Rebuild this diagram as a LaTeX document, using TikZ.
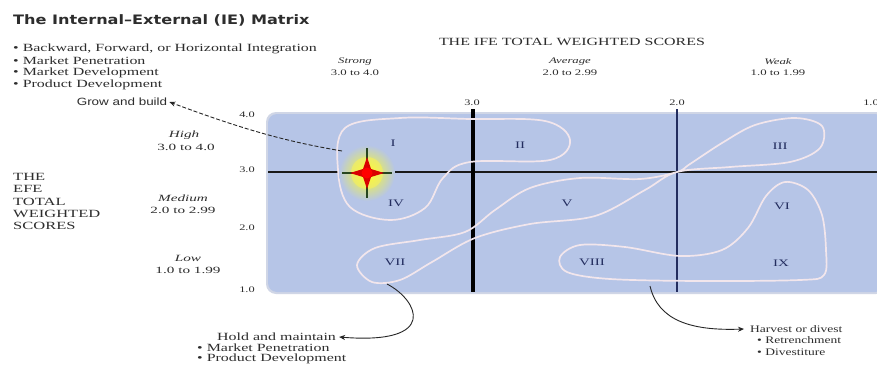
\documentclass[tikz,border=0pt]{standalone}
\usepackage{fontspec}
\usetikzlibrary{arrows.meta}
\setmainfont{Liberation Serif}
\newfontfamily\serW{Liberation Serif}
\newfontfamily\sansW{Liberation Sans}
\newfontfamily\titleF{DejaVu Sans}
\newcommand\hwide[2]{\scalebox{#1}[1]{#2}}
\definecolor{matblue}{RGB}{182,197,231}
\definecolor{matedge}{RGB}{208,214,230}
\definecolor{loopc}{RGB}{242,230,236}
\definecolor{navy}{RGB}{35,45,95}
\definecolor{txtc}{RGB}{45,45,45}
\definecolor{dgreen}{RGB}{40,70,30}
\tikzset{
  txt/.style={inner sep=0pt, text=txtc, font=\serW\fontsize{11}{12}\selectfont},
  smalltxt/.style={inner sep=0pt, text=txtc, font=\serW\fontsize{10}{11}\selectfont},
  bigtxt/.style={inner sep=0pt, text=txtc, font=\serW\fontsize{11}{12}\selectfont},
  ticklab/.style={inner sep=0pt, text=txtc, font=\serW\fontsize{8.5}{9}\selectfont},
  rowlab/.style={inner sep=0pt, text=txtc, font=\serW\fontsize{9.5}{10}\selectfont},
  hdr/.style={inner sep=0pt, text=txtc, font=\serW\itshape\fontsize{8.5}{9}\selectfont},
  rowhdr/.style={inner sep=0pt, text=txtc, font=\serW\itshape\fontsize{9.5}{10}\selectfont},
  cell/.style={inner sep=0pt, text=navy, font=\serW\fontsize{10}{11}\selectfont},
  loopline/.style={draw=loopc, line width=1.7pt},
  conn/.style={draw=black!85, line width=0.9pt, -{Stealth[length=6pt,width=5pt]}},
}
\begin{document}
\begin{tikzpicture}[x=1pt,y=-1pt]
\useasboundingbox (0,0) rectangle (877,364);
\fill[white] (0,0) rectangle (877,364);

% matrix body
\fill[matedge,rounded corners=10pt] (266,112) rectangle (886,294);
\fill[matblue,rounded corners=9pt] (268,114) rectangle (884,292);

% grid lines
\draw[line width=1.8pt, black!90] (268,172) -- (877,172);
\draw[line width=3.2pt, black] (473,109) -- (473,292);
\draw[line width=1.8pt, navy] (677,109) -- (677,292);

% grouping loops
\draw[loopline] plot[smooth cycle, tension=0.6] coordinates {
 (345,128) (400,118) (470,119) (545,121) (570,140) (550,160) (470,162)
 (443,178) (425,208) (390,220) (350,207) (338,170)};
\draw[loopline] plot[smooth cycle, tension=0.55] coordinates {
 (677,172) (730,167) (790,162) (820,148) (822,126) (795,118) (755,125)
 (722,143) (690,164) (677,172) (640,179) (580,178) (530,188) (495,210)
 (465,232) (420,240) (375,248) (357,265) (372,282) (400,280) (432,262)
 (475,238) (530,224) (595,216) (645,190)};
\draw[loopline] plot[smooth cycle, tension=0.55] coordinates {
 (560,257) (580,245) (625,247) (680,256) (722,250) (748,228) (766,196)
 (785,182) (808,190) (822,215) (826,250) (824,275) (800,280) (700,281)
 (610,279) (567,272)};

% star marker
\shade[inner color=yellow!90!white, outer color=matblue] (367,173) circle (28);
\fill[yellow!70!white, opacity=0.5] (367,173) circle (16);
\draw[dgreen, line width=2.6pt] (367,148) -- (367,198);
\draw[dgreen, line width=2.6pt] (342,173) -- (392,173);
\fill[teal!70!black] (359,170) rectangle (375,176);
\fill[red!85!black] (367,157) -- (371,169) -- (384,173) -- (371,177) -- (367,189)
  -- (363,177) -- (350,173) -- (363,169) -- cycle;
\fill[red] (367,173) circle (5.5);

% cell labels
\node[cell] (c1) at (393,143) {\hwide{1.5}{I}};
\node[cell] (c2) at (520,145) {\hwide{1.5}{II}};
\node[cell] (c3) at (780,146) {\hwide{1.5}{III}};
\node[cell] (c4) at (396,203) {\hwide{1.5}{IV}};
\node[cell] (c5) at (567,203) {\hwide{1.5}{V}};
\node[cell] (c6) at (782,206) {\hwide{1.5}{VI}};
\node[cell] (c7) at (395,262) {\hwide{1.5}{VII}};
\node[cell] (c8) at (592,262) {\hwide{1.5}{VIII}};
\node[cell] (c9) at (781,263) {\hwide{1.5}{IX}};

% tick labels
\node[ticklab] (l4) at (247,115) {\hwide{1.45}{4.0}};
\node[ticklab] (l3) at (247,170) {\hwide{1.45}{3.0}};
\node[ticklab] (l2) at (247,228) {\hwide{1.45}{2.0}};
\node[ticklab] (l1) at (247,290) {\hwide{1.45}{1.0}};
\node[ticklab] (t3) at (472,103) {\hwide{1.45}{3.0}};
\node[ticklab] (t2) at (677,103) {\hwide{1.45}{2.0}};
\node[ticklab] (t1) at (871,103) {\hwide{1.45}{1.0}};

% column headers
\node[bigtxt] (ifeh) at (572,42) {\hwide{1.45}{THE IFE TOTAL WEIGHTED SCORES}};
\node[hdr] (strong) at (355,62) {\hwide{1.5}{Strong}};
\node[ticklab] (strongr) at (355,73) {\hwide{1.5}{3.0 to 4.0}};
\node[hdr] (avg) at (570,62) {\hwide{1.5}{Average}};
\node[ticklab] (avgr) at (570,73) {\hwide{1.5}{2.0 to 2.99}};
\node[hdr] (weak) at (778,62) {\hwide{1.5}{Weak}};
\node[ticklab] (weakr) at (778,73) {\hwide{1.5}{1.0 to 1.99}};

% row headers
\node[rowhdr] (high) at (184,135) {\hwide{1.6}{High}};
\node[rowlab] (highr) at (186,147) {\hwide{1.6}{3.0 to 4.0}};
\node[rowhdr] (med) at (183,198) {\hwide{1.6}{Medium}};
\node[rowlab] (medr) at (183,210) {\hwide{1.6}{2.0 to 2.99}};
\node[rowhdr] (low) at (188,258) {\hwide{1.6}{Low}};
\node[rowlab] (lowr) at (188,270) {\hwide{1.6}{1.0 to 1.99}};

\node[bigtxt, anchor=west] (efe1) at (13,177) {\hwide{1.5}{THE}};
\node[bigtxt, anchor=west] (efe2) at (13,189) {\hwide{1.5}{EFE}};
\node[bigtxt, anchor=west] (efe3) at (13,202) {\hwide{1.5}{TOTAL}};
\node[bigtxt, anchor=west] (efe4) at (13,214) {\hwide{1.5}{WEIGHTED}};
\node[bigtxt, anchor=west] (efe5) at (13,226) {\hwide{1.5}{SCORES}};

% title and strategy lists
\node[inner sep=0pt, anchor=west, text=txtc, font=\titleF\bfseries\fontsize{13}{15}\selectfont] (title) at (13,20) {\hwide{1.24}{The Internal–External (IE) Matrix}};
\node[txt, anchor=west] (g1) at (13,49) {\hwide{1.45}{• Backward, Forward, or Horizontal Integration}};
\node[txt, anchor=west] (g2) at (13,61) {\hwide{1.45}{• Market Penetration}};
\node[txt, anchor=west] (g3) at (13,73) {\hwide{1.45}{• Market Development}};
\node[txt, anchor=west] (g4) at (13,85) {\hwide{1.45}{• Product Development}};
\node[inner sep=0pt, text=txtc, font=\sansW\fontsize{10.5}{12}\selectfont] (grow) at (122,102) {\hwide{1.28}{Grow and build}};

\node[txt, anchor=west] (hold) at (217,337) {\hwide{1.45}{Hold and maintain}};
\node[txt, anchor=west] (h1) at (197,348) {\hwide{1.45}{• Market Penetration}};
\node[txt, anchor=west] (h2) at (197,359) {\hwide{1.45}{• Product Development}};

\node[smalltxt, anchor=west] (harv) at (750,329) {\hwide{1.35}{Harvest or divest}};
\node[smalltxt, anchor=west] (v1) at (757,340) {\hwide{1.35}{• Retrenchment}};
\node[smalltxt, anchor=west] (v2) at (757,352) {\hwide{1.35}{• Divestiture}};

% connectors
\coordinate (gs) at (342,151);
\coordinate (hs) at (387,284);
\coordinate (vs) at (650,286);
\draw[conn, dashed, dash pattern=on 4pt off 2pt] (gs) .. controls (290,142) and (250,132) .. ([xshift=2pt]grow.east);
\draw[conn] (hs) .. controls (418,300) and (440,345) .. ([xshift=3pt]hold.east);
\draw[conn] (vs) .. controls (658,320) and (690,331) .. ([xshift=-6pt]harv.west);
\end{tikzpicture}
\end{document}
